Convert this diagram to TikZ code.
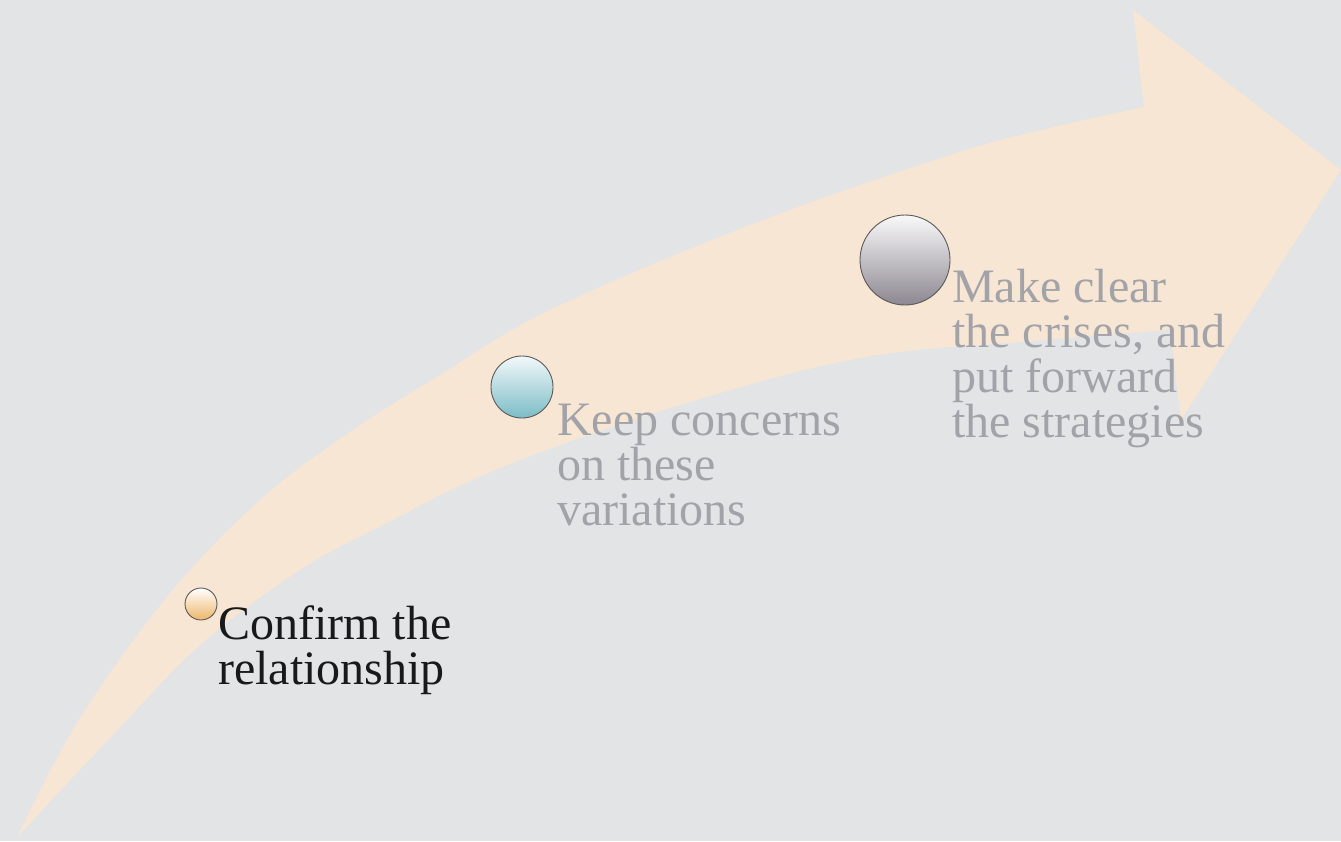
\documentclass[tikz,border=0pt]{standalone}
\usepackage{fontspec}
\setmainfont{Liberation Serif}
\definecolor{bg}{HTML}{E3E4E6}
\definecolor{band}{HTML}{F7E6D4}
\definecolor{orangeb}{HTML}{EDB66A}
\definecolor{tealb}{HTML}{7CBCC6}
\definecolor{greyb}{HTML}{8C8790}
\definecolor{softtext}{HTML}{A2A3A8}
\begin{document}
\begin{tikzpicture}[x=1pt,y=-1pt,
  dot/.style={circle, draw=black!65, line width=0.9pt, inner sep=0pt},
  lbl/.style={anchor=north west, inner sep=0pt, align=left, font=\fontsize{48}{45}\selectfont}]
\fill[bg] (0,0) rectangle (1341,841);
\useasboundingbox (0,0) rectangle (1341,841);
\fill[band] plot[smooth,tension=0.6] coordinates {(18,836) (110,738) (200,645) (300,570) (383,525) (500,468) (680,405) (860,358) (1020,342) (1170,330)}
  -- (1181,420) -- (1341,170) -- (1133,10) -- (1144,107)
  -- plot[smooth,tension=0.6] coordinates {(1144,107) (1050,128) (950,155) (750,225) (550,310) (440,375) (350,432) (260,500) (167,597) (77,723) (18,836)} -- cycle;
\node[dot, minimum size=32pt, top color=white, bottom color=orangeb] (c1) at (201,604) {};
\node[dot, minimum size=62pt, top color=white!90!tealb, bottom color=tealb] (c2) at (522,387) {};
\node[dot, minimum size=90pt, top color=white!95!greyb, bottom color=greyb] (c3) at (905,260) {};
\node[lbl, text=black!90] (t1) at (218,605) {Confirm the\\relationship};
\node[lbl, text=softtext] (t2) at (557,404) {Keep concerns\\on these\\variations};
\node[lbl, text=softtext] (t3) at (952,269) {Make clear\\the crises, and\\put forward\\the strategies};
\end{tikzpicture}
\end{document}
